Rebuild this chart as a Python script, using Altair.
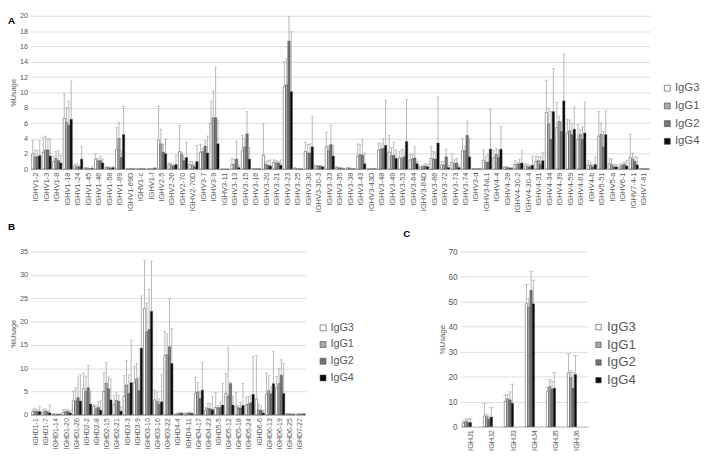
import altair as alt
import pandas as pd

ISOTYPES = ["IgG3", "IgG1", "IgG2", "IgG4"]
FILLS = ["#ffffff", "#ababab", "#767676", "#0a0a0a"]

# ---------------- Panel A : IGHV ----------------
genes_a = ["IGHV1-2", "IGHV1-3", "IGHV1-8", "IGHV1-18", "IGHV1-24", "IGHV1-45", "IGHV1-46", "IGHV1-58",
           "IGHV1-69", "IGHV1-69D", "IGHV1-c", "IGHV1-f", "IGHV2-5", "IGHV2-26", "IGHV2-70", "IGHV2-70D",
           "IGHV3-7", "IGHV3-9", "IGHV3-11", "IGHV3-13", "IGHV3-15", "IGHV3-16", "IGHV3-20", "IGHV3-21",
           "IGHV3-23", "IGHV3-25", "IGHV3-30", "IGHV3-30-3", "IGHV3-33", "IGHV3-35", "IGHV3-38", "IGHV3-43",
           "IGHV3-43D", "IGHV3-48", "IGHV3-49", "IGHV3-53", "IGHV3-64", "IGHV3-64D", "IGHV3-66", "IGHV3-72",
           "IGHV3-73", "IGHV3-74", "IGHV3-d", "IGHV3-NL1", "IGHV4-4", "IGHV4-28", "IGHV4-30-2", "IGHV4-30-4",
           "IGHV4-31", "IGHV4-34", "IGHV4-39", "IGHV4-59", "IGHV4-61", "IGHV4-b", "IGHV5-51", "IGHV5-a",
           "IGHV6-1", "IGHV7-4-1", "IGHV7-81"]
a_igg3 = [2.0, 2.2, 1.0, 6.6, 0.4, 0.1, 1.3, 0.2, 2.6, 0.05, 0.05, 0.05, 3.8, 0.6, 2.3, 0.6, 2.2, 6.0, 0, 0.6,
          2.4, 0.05, 1.8, 0.9, 10.8, 0.1, 2.3, 0.4, 2.9, 0.2, 0.1, 1.7, 0.05, 2.5, 2.2, 1.5, 1.2, 0.3, 1.4, 0.55,
          0.9, 2.4, 0.05, 1.15, 1.5, 0.25, 0.6, 0.4, 1.0, 7.4, 5.4, 4.7, 3.9, 0.55, 4.3, 0.7, 0.3, 1.5, 0.05]
a_igg1 = [1.6, 2.5, 1.4, 6.1, 0.3, 0.1, 1.1, 0.2, 4.0, 0.05, 0.05, 0.05, 3.3, 0.5, 1.9, 0.5, 2.3, 6.7, 0, 0.6,
          2.9, 0.05, 0.6, 0.8, 11.0, 0.05, 2.1, 0.4, 2.4, 0.15, 0.1, 1.9, 0.05, 2.6, 1.7, 1.4, 1.3, 0.3, 1.3, 0.5,
          0.7, 2.4, 0.05, 0.9, 1.9, 0.2, 0.6, 0.3, 1.1, 5.9, 6.2, 5.0, 4.5, 0.5, 4.5, 0.6, 0.5, 1.3, 0.05]
a_igg2 = [1.6, 2.5, 1.1, 5.7, 0.3, 0.05, 1.1, 0.15, 1.5, 0.05, 0.05, 0.05, 2.2, 0.4, 1.1, 0.3, 3.0, 6.7, 0, 1.3,
          4.6, 0.05, 0.5, 0.8, 16.7, 0.05, 2.1, 0.35, 3.2, 0.1, 0.05, 1.8, 0.05, 2.7, 1.8, 1.6, 1.45, 0.4, 1.3, 1.6,
          0.8, 4.4, 0.05, 0.9, 1.5, 0.15, 0.7, 0.3, 0.6, 3.9, 4.9, 4.5, 3.9, 0.3, 2.9, 0.3, 0.6, 1.0, 0.05]
a_igg4 = [1.75, 1.7, 0.8, 6.5, 1.3, 0.1, 0.8, 0.2, 4.5, 0.05, 0.05, 0.1, 2.0, 0.6, 1.5, 1.0, 2.1, 3.3, 0, 0.2,
          1.3, 0.05, 0.4, 0.5, 10.1, 0.05, 2.9, 0.3, 1.7, 0.05, 0.05, 0.7, 0.05, 3.1, 1.4, 3.6, 0.7, 0.3, 3.4, 0.2,
          0.2, 1.6, 0.05, 2.6, 2.6, 0.1, 0.8, 0.5, 1.1, 7.5, 8.9, 5.2, 4.7, 0.6, 4.5, 0.3, 0.4, 0.55, 0.05]
a_igg3_top = [3.7, 4.1, 1.7, 9.8, 0.6, 0.2, 2.0, 0.3, 5.4, 0.1, 0.1, 0.1, 8.2, 0.8, 5.7, 1.0, 3.2, 8.8, 0, 1.4,
              4.4, 0.1, 5.9, 1.2, 14.0, 0.2, 3.5, 0.5, 4.8, 0.3, 0.2, 3.3, 0.1, 3.4, 4.4, 2.3, 1.9, 0.4, 2.9, 1.0,
              2.0, 4.0, 0.1, 2.5, 2.4, 0.3, 1.1, 0.7, 1.7, 11.6, 8.7, 6.5, 5.8, 1.1, 7.5, 1.4, 0.6, 4.5, 0.1]
a_igg1_top = [2.5, 4.3, 2.3, 8.0, 0.7, 0.2, 1.4, 0.3, 6.1, 0.1, 0.1, 0.1, 5.2, 0.8, 2.2, 1.0, 2.7, 10.2, 0, 1.3,
              4.0, 0.1, 1.0, 1.1, 14.4, 0.1, 3.2, 0.5, 3.1, 0.2, 0.2, 3.2, 0.1, 3.3, 2.8, 2.6, 1.9, 0.5, 2.3, 1.0,
              1.2, 3.0, 0.1, 1.7, 2.7, 0.3, 0.9, 0.6, 1.6, 7.9, 6.9, 6.4, 5.2, 0.9, 6.0, 1.3, 0.8, 2.1, 0.1]
a_igg2_top = [2.4, 4.0, 2.4, 8.8, 0.5, 0.1, 1.7, 0.2, 2.5, 0.1, 0.1, 0.1, 3.2, 0.6, 1.5, 0.7, 3.7, 13.3, 0, 3.6,
              7.5, 0.1, 1.1, 1.0, 19.9, 0.1, 3.3, 0.5, 5.7, 0.2, 0.1, 3.9, 0.1, 4.0, 3.5, 2.5, 2.9, 0.7, 2.2, 2.6,
              1.4, 6.25, 0.1, 1.9, 2.5, 0.2, 1.3, 0.5, 1.6, 7.5, 6.2, 6.0, 5.5, 0.6, 4.9, 0.6, 0.9, 1.6, 0.1]
a_igg4_top = [3.7, 3.9, 1.8, 11.5, 2.9, 0.3, 1.3, 0.3, 8.2, 0.1, 0.1, 0.2, 3.9, 1.8, 3.5, 3.1, 4.3, 6.3, 0, 0.5,
              2.8, 0.1, 1.2, 1.2, 17.9, 0.1, 6.9, 0.4, 3.1, 0.1, 0.1, 2.1, 0.1, 9.0, 2.5, 9.1, 1.0, 0.6, 9.4, 0.5,
              0.5, 4.0, 0.1, 7.8, 5.6, 0.2, 2.4, 1.7, 2.2, 13.1, 15.0, 8.1, 8.75, 1.6, 7.6, 0.6, 1.1, 1.5, 0.1]

# ---------------- Panel B : IGHD ----------------
genes_b = ["IGHD1-1", "IGHD1-7", "IGHD1-14", "IGHD1-20", "IGHD1-26", "IGHD2-2", "IGHD2-8", "IGHD2-15",
           "IGHD2-21", "IGHD3-3", "IGHD3-9", "IGHD3-10", "IGHD3-16", "IGHD3-22", "IGHD4-4", "IGHD4-11",
           "IGHD4-17", "IGHD4-23", "IGHD5-5", "IGHD5-12", "IGHD5-18", "IGHD5-24", "IGHD6-6", "IGHD6-13",
           "IGHD6-19", "IGHD6-25", "IGHD7-27"]
b_igg3 = [0.7, 0.6, 0.1, 0.5, 3.0, 5.6, 1.8, 5.0, 2.2, 4.0, 6.9, 22.8, 3.2, 12.7, 0.1, 0.2, 4.6, 0.9, 1.6, 4.6,
          1.75, 2.1, 3.4, 4.4, 5.8, 0.2, 0.1]
b_igg1 = [0.8, 0.8, 0.1, 0.7, 3.0, 5.0, 1.3, 6.8, 3.1, 6.4, 7.7, 17.8, 2.9, 12.9, 0.2, 0.3, 4.9, 1.4, 1.5, 4.0,
          1.5, 2.3, 1.0, 5.2, 6.7, 0.2, 0.2]
b_igg2 = [0.7, 0.6, 0.1, 0.7, 3.7, 5.8, 1.6, 5.6, 2.9, 4.6, 5.2, 18.3, 2.3, 14.6, 0.3, 0.4, 3.5, 1.3, 1.6, 6.7,
          1.5, 2.6, 1.0, 4.5, 8.5, 0.1, 0.1]
b_igg4 = [0.7, 0.4, 0.1, 0.4, 2.95, 2.3, 1.0, 3.2, 0.8, 6.9, 14.3, 22.2, 2.8, 11.0, 0.3, 0.3, 5.3, 1.1, 2.1, 2.1,
          2.0, 4.4, 0.4, 6.7, 4.6, 0.1, 0.2]
b_igg3_top = [1.2, 1.2, 0.2, 1.1, 5.1, 8.9, 2.2, 9.0, 4.1, 8.4, 10.4, 33.1, 5.3, 17.9, 0.2, 0.4, 8.1, 1.6, 4.8, 8.8,
              4.8, 3.7, 12.7, 9.0, 8.2, 0.3, 0.2]
b_igg1_top = [1.4, 1.3, 0.2, 1.2, 5.8, 8.3, 2.0, 11.3, 4.7, 11.6, 11.0, 24.0, 4.9, 17.4, 0.4, 0.5, 6.9, 2.4, 2.0, 14.5,
              2.0, 3.9, 2.2, 8.4, 10.0, 0.3, 0.3]
b_igg2_top = [1.1, 0.9, 0.2, 1.1, 8.1, 10.6, 2.8, 8.1, 4.2, 8.6, 8.0, 26.9, 3.5, 24.9, 0.5, 0.6, 5.0, 2.4, 2.7, 6.9,
              2.7, 4.2, 1.9, 6.0, 11.8, 0.2, 0.2]
b_igg4_top = [1.8, 2.1, 0.2, 0.9, 8.6, 5.0, 3.0, 7.7, 1.7, 16.0, 25.5, 32.9, 8.6, 18.5, 0.5, 0.4, 11.3, 3.9, 6.7, 3.9,
              6.7, 12.5, 1.0, 13.6, 11.0, 0.2, 0.3]

# ---------------- Panel C : IGHJ ----------------
genes_c = ["IGHJ1", "IGHJ2", "IGHJ3", "IGHJ4", "IGHJ5", "IGHJ6"]
c_igg3 = [1.3, 4.3, 10.1, 49.2, 14.0, 21.5]
c_igg1 = [2.1, 3.9, 11.1, 47.8, 16.0, 19.6]
c_igg2 = [1.7, 3.0, 10.7, 54.6, 14.9, 15.4]
c_igg4 = [1.6, 3.8, 9.3, 49.1, 15.4, 20.9]
c_igg3_top = [2.0, 9.2, 12.6, 56.9, 15.7, 29.1]
c_igg1_top = [3.1, 5.0, 12.7, 51.2, 18.8, 22.3]
c_igg2_top = [2.7, 4.2, 13.9, 62.2, 18.1, 21.6]
c_igg4_top = [3.3, 7.6, 17.0, 58.6, 21.7, 28.4]


def long_table(genes, vals, tops):
    rows = []
    for iso, vs, ts in zip(ISOTYPES, vals, tops):
        for g, v, t in zip(genes, vs, ts):
            rows.append({"gene": g, "isotype": iso, "value": v, "top": t})
    return pd.DataFrame(rows)


GRAY = "#595959"


def panel(df, genes, letter, width, height, ymax, ystep, xlab, ylab, tsize,
          leg_x, leg_y, leg_font, leg_sym, leg_pad, cap, let_x, let_y):
    x = alt.X("gene:N", sort=genes, title=None,
              scale=alt.Scale(paddingInner=0.12, paddingOuter=0.1),
              axis=alt.Axis(labelAngle=-90, labelFontSize=xlab, labelColor=GRAY, ticks=False,
                            domainColor="#bfbfbf", labelPadding=3, labelOverlap=False))
    xo = alt.XOffset("isotype:N", sort=ISOTYPES, scale=alt.Scale(paddingInner=0, paddingOuter=0))

    def ych(field):
        return alt.Y(field, type="quantitative", title="%Usage",
                     scale=alt.Scale(domain=[0, ymax], nice=False),
                     axis=alt.Axis(values=list(range(0, ymax + 1, ystep)), grid=True, gridColor="#dcdcdc",
                                   domain=False, ticks=False, labelColor=GRAY, labelFontSize=ylab,
                                   labelPadding=3, titleFontSize=tsize, titleFontWeight="normal",
                                   titleColor=GRAY, titlePadding=2))

    color = alt.Color("isotype:N", sort=ISOTYPES,
                      scale=alt.Scale(domain=ISOTYPES, range=FILLS),
                      legend=alt.Legend(title=None, orient="none", legendX=leg_x, legendY=leg_y,
                                        symbolType="square", symbolSize=leg_sym,
                                        symbolStrokeColor="#404040", symbolStrokeWidth=0.6,
                                        labelFontSize=leg_font, labelColor=GRAY, labelOffset=2,
                                        rowPadding=leg_pad))
    base = alt.Chart(df)
    bars = base.mark_bar(stroke="#404040", strokeWidth=0.5).encode(
        x=x, xOffset=xo, y=ych("value"), color=color)
    errs = base.transform_filter("datum.top > datum.value")
    rules = errs.mark_rule(color="#a6a6a6", strokeWidth=0.8).encode(
        x=x, xOffset=xo, y=ych("value"), y2="top:Q")
    caps = errs.mark_tick(color="#a6a6a6", thickness=0.8, size=cap).encode(
        x=x, xOffset=xo, y=ych("top"))
    lab = alt.Chart(pd.DataFrame({"t": [letter]})).mark_text(
        fontWeight="bold", fontSize=10, align="left", baseline="alphabetic", color="#000000"
    ).encode(x=alt.value(let_x), y=alt.value(let_y), text="t:N")
    return alt.layer(bars, rules, caps, lab).properties(width=width, height=height)


df_a = long_table(genes_a, [a_igg3, a_igg1, a_igg2, a_igg4],
                  [a_igg3_top, a_igg1_top, a_igg2_top, a_igg4_top])
df_b = long_table(genes_b, [b_igg3, b_igg1, b_igg2, b_igg4],
                  [b_igg3_top, b_igg1_top, b_igg2_top, b_igg4_top])
df_c = long_table(genes_c, [c_igg3, c_igg1, c_igg2, c_igg4],
                  [c_igg3_top, c_igg1_top, c_igg2_top, c_igg4_top])

chart_a = panel(df_a, genes_a, "A", 630, 156, 20, 2, 7.6, 7.5, 7.5,
                642, 68, 11.5, 36, 5, 3, -23, 8)
chart_b = panel(df_b, genes_b, "B", 280, 166, 35, 5, 7, 7.5, 7.5,
                292, 72, 11, 36, 5, 3, -23, -22)
chart_c = panel(df_c, genes_c, "C", 130, 178, 70, 10, 7.5, 8.4, 8,
                134, 70, 13.5, 30, 3, 5, -58, -15)

bottom = alt.hconcat(chart_b, chart_c, spacing=157, bounds="flush").resolve_scale(color="independent")
chart = (
    alt.vconcat(chart_a, bottom, spacing=84, bounds="flush")
    .resolve_scale(color="independent")
    .properties(padding=0)
    .configure(font="Liberation Sans")
    .configure_view(strokeWidth=0)
)

chart.save("out.html", embed_options={"renderer": "svg", "actions": False})
